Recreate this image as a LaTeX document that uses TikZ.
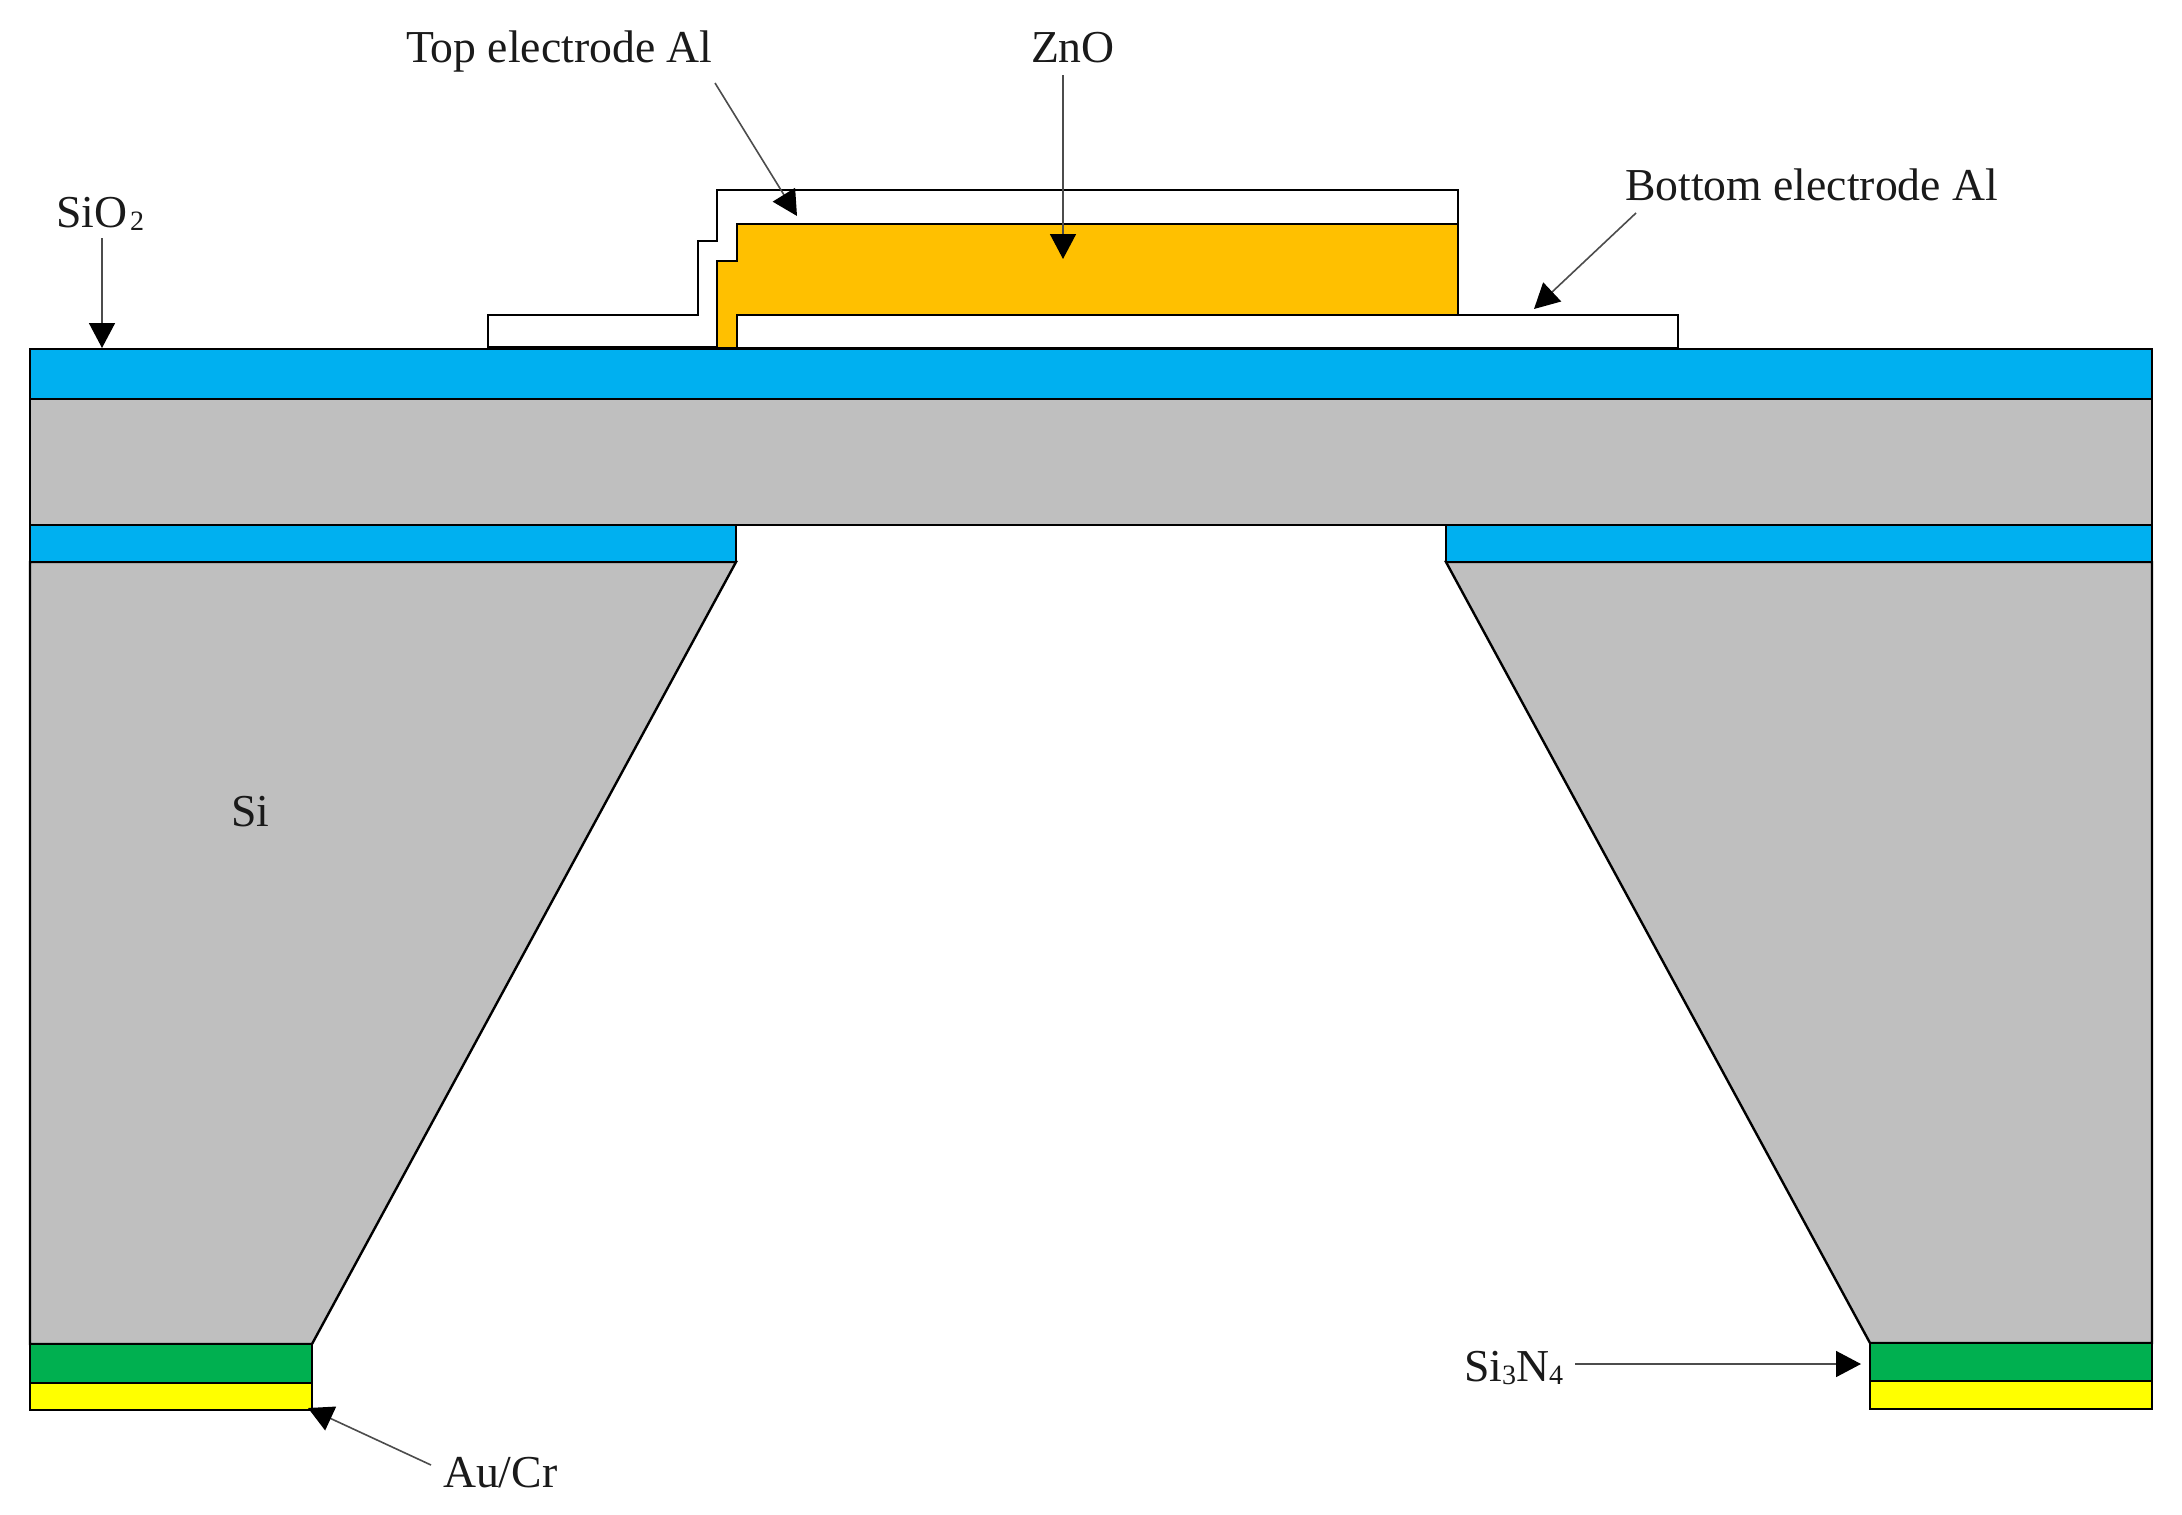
\documentclass[tikz,border=0pt]{standalone}
\usepackage{fontspec}
\setmainfont{Liberation Serif}
\usetikzlibrary{arrows.meta}
\definecolor{layerblue}{HTML}{00B0F0}
\definecolor{layergrey}{HTML}{BFBFBF}
\definecolor{layerorange}{HTML}{FFC000}
\definecolor{layergreen}{HTML}{00B050}
\definecolor{layeryellow}{HTML}{FFFF00}
\definecolor{inkc}{HTML}{1A1A1A}
\newcommand{\subd}[1]{\raisebox{-3pt}{\fontsize{28}{30}\selectfont #1}}
\tikzset{
  layer/.style={draw=black,line width=2.4pt,line join=miter},
  lbl/.style={anchor=base west,inner sep=0pt,outer sep=0pt,text=inkc,font=\fontsize{45.7}{54}\selectfont},
  pointer/.style={draw=black!70,line width=1.6pt,-{Triangle[length=25pt,width=26pt,fill=black,color=black]}}
}
\begin{document}
\begin{tikzpicture}[x=1pt,y=-1pt]
\useasboundingbox (0,0) rectangle (2182,1515);
% Si substrate pieces
\fill[white] (0,0) rectangle (2182,1515);
\draw[layer,fill=layergrey] (30,562) -- (736,562) -- (312,1344) -- (30,1344) -- cycle;
\draw[layer,fill=layergrey] (1446,562) -- (2152,562) -- (2152,1343) -- (1870,1343) -- cycle;
% Membrane
\draw[layer,fill=layergrey] (30,399) rectangle (2152,525);
\draw[layer,fill=layerblue] (30,349) rectangle (2152,399);
\draw[layer,fill=layerblue] (30,525) rectangle (736,562);
\draw[layer,fill=layerblue] (1446,525) rectangle (2152,562);
% Backside layers
\draw[layer,fill=layergreen] (30,1344) rectangle (312,1383);
\draw[layer,fill=layeryellow] (30,1383) rectangle (312,1410);
\draw[layer,fill=layergreen] (1870,1343) rectangle (2152,1381);
\draw[layer,fill=layeryellow] (1870,1381) rectangle (2152,1409);
% Electrodes and ZnO
\draw[layer,fill=white] (488,347) -- (488,315) -- (698,315) -- (698,241) -- (717,241) -- (717,190) -- (1458,190) -- (1458,224) -- (737,224) -- (737,261) -- (717,261) -- (717,347) -- cycle;
\draw[layer,fill=white] (737,315) rectangle (1678,348);
\draw[layer,fill=layerorange] (717,348) -- (717,261) -- (737,261) -- (737,224) -- (1458,224) -- (1458,315) -- (737,315) -- (737,348) -- cycle;
% Labels
\node[lbl] (top) at (406,62) {Top electrode Al};
\node[lbl] (zno) at (1031,62) {ZnO};
\node[lbl] (bot) at (1625,200) {Bottom electrode Al};
\node[lbl] (sio) at (56,227) {SiO\hspace{3pt}\subd{2}};
\node[lbl] (si) at (231,826) {Si};
\node[lbl] (aucr) at (443,1487) {Au/Cr};
\node[lbl] (sin) at (1464,1381) {Si\subd{3}N\subd{4}};
% Connector ends
\coordinate (topS) at (715,83);
\coordinate (topT) at (797,216);
\coordinate (znoS) at (1063,75);
\coordinate (znoT) at (1063,259);
\coordinate (botS) at (1636,213);
\coordinate (botT) at (1534,309);
\coordinate (sioS) at (102,238);
\coordinate (sioT) at (102,348);
\coordinate (aucrS) at (431,1465);
\coordinate (aucrT) at (308,1408);
\coordinate (sinS) at (1575,1364);
\coordinate (sinT) at (1861,1364);
\draw[pointer] (topS) -- (topT);
\draw[pointer] (znoS) -- (znoT);
\draw[pointer] (botS) -- (botT);
\draw[pointer] (sioS) -- (sioT);
\draw[pointer] (aucrS) -- (aucrT);
\draw[pointer] (sinS) -- (sinT);
\end{tikzpicture}
\end{document}
